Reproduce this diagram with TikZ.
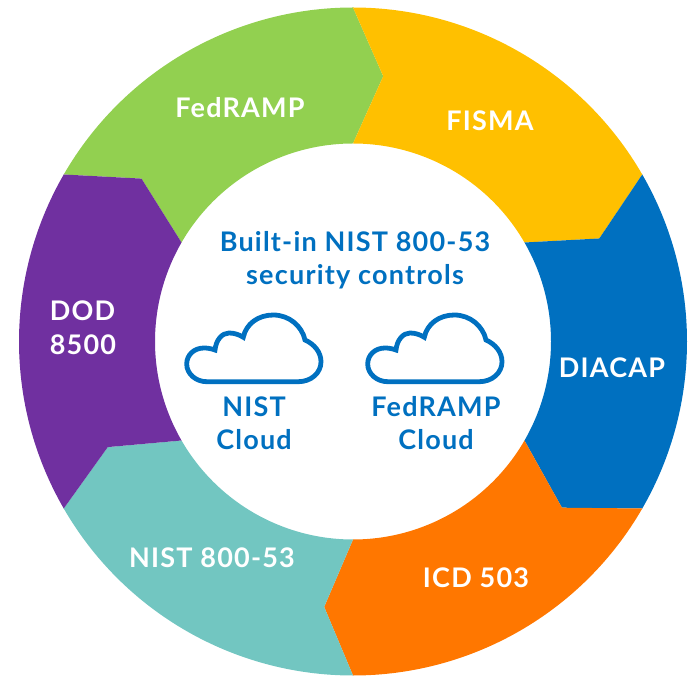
\documentclass[tikz,border=0pt]{standalone}
\usepackage{xcolor}
\usepackage{fontspec}
\setmainfont[LetterSpace=4.5]{Lato}
\usetikzlibrary{positioning,calc}
\definecolor{fedgreen}{HTML}{92D050}
\definecolor{fismayellow}{HTML}{FFC000}
\definecolor{diablue}{HTML}{0070C0}
\definecolor{icdorange}{HTML}{FF7700}
\definecolor{nistteal}{HTML}{72C6C1}
\definecolor{dodpurple}{HTML}{7030A0}
% colour, start angle, end angle, tip angle of this segment, tip angle of the one before
\newcommand\segment[5]{
  \fill[#1] (c) ++(#2:334) arc[start angle=#2,end angle=#3,radius=334]
    -- ($(c)+(#4:267)$) -- ($(c)+(#3:198)$)
    arc[start angle=#3,end angle=#2,radius=198]
    -- ($(c)+(#5:267)$) -- cycle;
}

\begin{document}
\begin{tikzpicture}[x=1pt,y=1pt,
  seglabel/.style={text=white,font=\fontsize{27}{34}\selectfont\bfseries,align=center},
  inlabel/.style={text=diablue,font=\fontsize{27}{33}\selectfont\bfseries,align=center},
  pics/cloudicon/.style={code={
    \draw[diablue,line width=4.8pt]
      (22.7,2.3) -- (114.3,2.3) .. controls (127,2.3) and (137,11) .. (137,22.3)
      .. controls (137,32) and (130,40) .. (121,44)
      .. controls (118,58) and (105,69) .. (89.3,69)
      .. controls (74,69) and (62,60) .. (59.3,46.7)
      .. controls (55,49.5) and (50,51) .. (45,51)
      .. controls (38,51) and (32,44) .. (31,34)
      .. controls (27,35.5) and (23,36) .. (20,36)
      .. controls (10,36) and (2.7,29) .. (2.7,20)
      .. controls (2.7,10) and (12,2.3) .. (22.7,2.3) -- cycle;
  }}
  ]
  \useasboundingbox (0,0) rectangle (693,675);
  \coordinate (c) at (353,333.5);

  \segment{fedgreen}{150}{90}{83.5}{142.4}
  \segment{fismayellow}{90}{30}{22.7}{83.5}
  \segment{diablue}{30}{-30}{-38.5}{22.7}
  \segment{icdorange}{-30}{-90}{-96.2}{-38.5}
  \segment{nistteal}{-90}{-150}{-156.7}{-96.2}
  \segment{dodpurple}{-150}{-210}{-217.6}{-156.7}

  \node[seglabel] (fedramp) at (240,567) {FedRAMP};
  \node[seglabel] (fisma) at (490,554) {FISMA};
  \node[seglabel] (diacap) at (612,307) {DIACAP};
  \node[seglabel] (icd) at (476,97) {ICD 503};
  \node[seglabel] (nist) at (212,117) {NIST 800-53};
  \node[seglabel,align=left] (dod) at (83,347) {DOD\\8500};

  \node[inlabel] (title) at (355,415) {Built-in NIST 800-53\\security controls};
  \pic (nistcloud) at (184,291) {cloudicon};
  \pic (fedcloud) at (365,291) {cloudicon};
  \node[inlabel] (nistlabel) at (254,252) {NIST\\Cloud};
  \node[inlabel] (fedlabel) at (436,252) {FedRAMP\\Cloud};
\end{tikzpicture}
\end{document}
